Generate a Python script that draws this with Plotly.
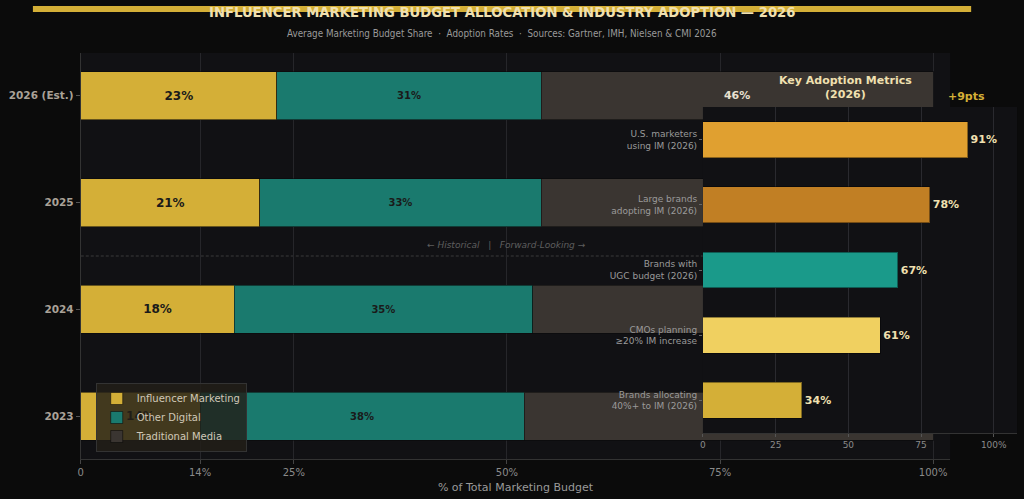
import plotly.graph_objects as go

# ---- Data ----
years = ["2023", "2024", "2025", "2026 (Est.)"]
influencer = [14, 18, 21, 23]
other_digital = [38, 35, 33, 31]
traditional = [48, 47, 46, 46]

metric_labels = [
    "U.S. marketers<br>using IM (2026)",
    "Large brands<br>adopting IM (2026)",
    "Brands with<br>UGC budget (2026)",
    "CMOs planning<br>≥20% IM increase",
    "Brands allocating<br>40%+ to IM (2026)",
]
metric_values = [91, 78, 67, 61, 34]
metric_colors = ["#E0A030", "#C17F24", "#1A9A8A", "#F0D060", "#D4AF37"]

main_ticks = [0, 14, 25, 50, 75, 100]
main_ticktext = ["0", "14%", "25%", "50%", "75%", "100%"]
inset_ticks = [0, 25, 50, 75, 100]
inset_ticktext = ["0", "25", "50", "75", "100%"]

W, H = 1024, 499

fig = go.Figure()

edge = dict(color="rgba(10,10,10,0.55)", width=1)

fig.add_trace(go.Bar(
    y=years, x=influencer, orientation="h", name="Influencer Marketing",
    marker=dict(color="#D4AF37", line=edge),
    text=[f"{v}%" for v in influencer], textposition="inside",
    insidetextanchor="middle", textangle=0, constraintext="none",
    textfont=dict(family="DejaVu Sans", size=12, color="#1A1A1A", weight="bold"),
    width=0.45, xaxis="x", yaxis="y", hoverinfo="skip",
))
fig.add_trace(go.Bar(
    y=years, x=other_digital, orientation="h", name="Other Digital",
    marker=dict(color="#1A7A6E", line=edge),
    text=[f"{v}%" for v in other_digital], textposition="inside",
    insidetextanchor="middle", textangle=0, constraintext="none",
    textfont=dict(family="DejaVu Sans", size=10, color="#1A1A1A", weight="bold"),
    width=0.45, xaxis="x", yaxis="y", hoverinfo="skip",
))
fig.add_trace(go.Bar(
    y=years, x=traditional, orientation="h", name="Traditional Media",
    marker=dict(color="#3A3531", line=edge),
    text=[f"{v}%" for v in traditional], textposition="inside",
    insidetextanchor="middle", textangle=0, constraintext="none",
    textfont=dict(family="DejaVu Sans", size=11, color="#E8E0D0", weight="bold"),
    width=0.45, xaxis="x", yaxis="y", hoverinfo="skip",
))

fig.add_trace(go.Bar(
    y=metric_labels, x=metric_values, orientation="h", showlegend=False,
    marker=dict(color=metric_colors, line=dict(color="rgba(0,0,0,0.4)", width=1)),
    text=[f"{v}%" for v in metric_values], textposition="outside",
    cliponaxis=False, constraintext="none",
    textfont=dict(family="DejaVu Sans", size=11, color="#F0E0B0", weight="bold"),
    width=0.55, xaxis="x2", yaxis="y2", hoverinfo="skip",
))

main_x_dom = [78 / W, 950 / W]
main_y_dom = [(H - 459) / H, (H - 53) / H]
in_x_dom = [702 / W, 1017 / W]
in_y_dom = [(H - 433) / H, (H - 107) / H]

fig.update_layout(
    width=W, height=H,
    margin=dict(l=0, r=0, t=0, b=0),
    paper_bgcolor="#0B0B0B",
    plot_bgcolor="#111114",
    barmode="stack",
    font=dict(family="DejaVu Sans", color="#999999"),
    xaxis=dict(
        domain=main_x_dom, range=[0, 102], anchor="y",
        tickvals=main_ticks, ticktext=main_ticktext,
        tickfont=dict(size=10, color="#8A8A8A"),
        ticks="outside", ticklen=4, tickcolor="#444",
        showgrid=True, gridcolor="#26262A", gridwidth=1,
        zeroline=False, showline=True, linecolor="#333", linewidth=1,
        title=dict(text="% of Total Marketing Budget",
                   font=dict(size=11, color="#9A9A9A"), standoff=6),
        fixedrange=True,
    ),
    yaxis=dict(
        domain=main_y_dom, range=[-0.4, 3.4], anchor="x",
        type="category", categoryorder="array", categoryarray=years,
        tickfont=dict(size=10.5, color="#AAA298", weight="bold"),
        ticks="outside", ticklen=4, tickcolor="#555",
        showgrid=False, zeroline=False,
        showline=True, linecolor="#333", linewidth=1,
        fixedrange=True,
    ),
    xaxis2=dict(
        domain=in_x_dom, range=[0, 108], anchor="y2",
        tickvals=inset_ticks, ticktext=inset_ticktext,
        tickfont=dict(size=9, color="#8A8A8A"),
        ticks="outside", ticklen=3, tickcolor="#555",
        showgrid=True, gridcolor="#2A2A2F", gridwidth=1,
        zeroline=False, showline=True, linecolor="#333",
        fixedrange=True,
    ),
    yaxis2=dict(
        domain=in_y_dom, range=[4.5, -0.5], anchor="x2",
        type="category", categoryorder="array", categoryarray=metric_labels,
        tickfont=dict(size=9, color="#9A9A9A"),
        ticks="outside", ticklen=3, tickcolor="#666",
        showgrid=False, zeroline=False, showline=False,
        fixedrange=True,
    ),
    legend=dict(
        x=93 / W, y=(H - 452) / H, xanchor="left", yanchor="bottom",
        bgcolor="rgba(34,30,24,0.82)", bordercolor="#333", borderwidth=1,
        font=dict(size=10, color="#D0C8B8"),
        traceorder="normal", tracegroupgap=0, itemwidth=30,
    ),
    showlegend=True,
)

fig.update_layout(
    shapes=[
        dict(type="rect", xref="paper", yref="paper",
             x0=30 / W, x1=971 / W, y0=(H - 12) / H, y1=(H - 6) / H,
             fillcolor="#D4AF37", line=dict(width=0), layer="above"),
        dict(type="line", xref="x", yref="y",
             x0=0, x1=(702 - 78) / 855 * 100, y0=1.5, y1=1.5,
             line=dict(color="#3A3A3A", width=1, dash="3px,2px"), layer="below"),
    ],
)

annotations = [
    dict(text="<b>INFLUENCER MARKETING BUDGET ALLOCATION &amp; INDUSTRY ADOPTION — 2026</b>",
         x=500 / W, y=(H - 11) / H, xref="paper", yref="paper", showarrow=False,
         xanchor="center", yanchor="middle",
         font=dict(family="DejaVu Sans Condensed, DejaVu Sans", size=14.7, color="#F0E0B0")),
    dict(text="Average Marketing Budget Share  ·  Adoption Rates  ·  Sources: Gartner, IMH, Nielsen &amp; CMI 2026",
         x=500 / W, y=(H - 34) / H, xref="paper", yref="paper", showarrow=False,
         xanchor="center", yanchor="middle",
         font=dict(family="DejaVu Sans Condensed, DejaVu Sans", size=9.8, color="#9A9A9A")),
    dict(text="<b>Key Adoption Metrics<br>(2026)</b>",
         x=845 / W, y=(H - 88) / H, xref="paper", yref="paper", showarrow=False,
         xanchor="center", yanchor="middle",
         font=dict(size=11, color="#F0E0B0")),
    dict(text="<b>+9pts</b>",
         x=966 / W, y=(H - 97) / H, xref="paper", yref="paper", showarrow=False,
         xanchor="center", yanchor="middle",
         font=dict(size=11, color="#D4AF37")),
    dict(text="<i>← Historical   |   Forward-Looking →</i>",
         x=50, y=1.6, xref="x", yref="y", showarrow=False,
         xanchor="center", yanchor="middle",
         font=dict(size=9, color="#5E5E5E")),
]
fig.update_layout(annotations=annotations)

fig.write_html("out.html")
